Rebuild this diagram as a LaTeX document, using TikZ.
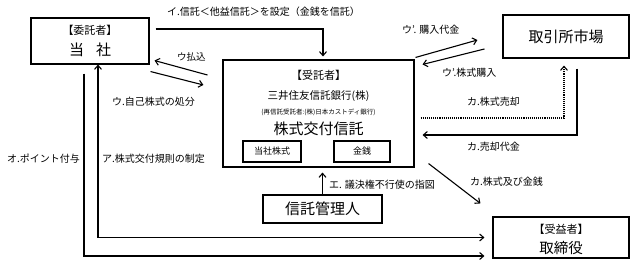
\documentclass[tikz,border=0pt]{standalone}
\usepackage{fontspec}
\setmainfont{Noto Sans CJK JP}
\usepackage{tikz}
\usetikzlibrary{arrows.meta,positioning,calc}

\begin{document}
\begin{tikzpicture}[x=1pt, y=-1pt,
    box/.style={draw, line width=1.1pt, inner sep=0pt},
    arr/.style={line width=1.1pt, -{Straight Barb[length=4pt,width=7pt]}},
    lbl/.style={font=\fontsize{10}{11}\selectfont, anchor=west, inner sep=0pt},
    big/.style={font=\fontsize{15}{17}\selectfont}]
  \useasboundingbox (0,0) rectangle (633,275);

  % Boxes
  \node[box, minimum width=118pt, minimum height=46pt] (client) at (90,41) {};
  \node[box, minimum width=191pt, minimum height=107pt] (trust) at (318.5,113.5) {};
  \node[box, minimum width=58pt, minimum height=21pt, font=\fontsize{9}{10}\selectfont] (shares) at (272,151.5) {当社株式};
  \node[box, minimum width=56pt, minimum height=21pt, font=\fontsize{9}{10}\selectfont] (cash) at (362,151.5) {金銭};
  \node[box, big, minimum width=126pt, minimum height=43pt] (market) at (566,36.5) {取引所市場};
  \node[box, big, minimum width=119pt, minimum height=28pt] (admin) at (322.5,209) {信託管理人};
  \node[box, minimum width=136pt, minimum height=41pt] (bene) at (561,237.5) {};

  % Box texts
  \node[font=\fontsize{11}{13}\selectfont] (clientRole) at (90,30) {【委託者】};
  \node[big] (clientName) at (90,50) {当\hspace{0.8em}社};
  \node[font=\fontsize{11}{13}\selectfont] (trustRole) at (318.5,75) {【受託者】};
  \node[font=\fontsize{10.5}{12}\selectfont] (trustBank) at (318.5,96) {三井住友信託銀行(株)};
  \node[font=\fontsize{6.5}{8}\selectfont] (trustSub) at (318.5,112) {(再信託受託者:(株)日本カストディ銀行)};
  \node[big] (trustName) at (318.5,129) {株式交付信託};
  \node[font=\fontsize{11}{13}\selectfont] (beneRole) at (561,229) {【受益者】};
  \node[font=\fontsize{14.5}{16}\selectfont] (beneName) at (561,248) {取締役};

  % Arrows
  \draw[arr, shorten >=3pt] ($(client.east)+(6,-12)$) -| ([xshift=4.5pt]trust.north);
  \draw[arr] ($(trust.west)+(-15,-38.5)$) -- ($(client.south east)+(5,-4)$);
  \draw[arr] ($(client.south east)+(1,7)$) -- ($(trust.west)+(-19,-28.5)$);
  \draw[arr] ($(trust.north east)+(1,-2)$) -- ($(market.west)+(-25,3.5)$);
  \draw[arr] ($(market.west)+(-18,12.5)$) -- ($(trust.north east)+(8,5)$);
  \draw[arr, densely dotted, shorten >=7pt] ($(trust.east)+(6,4.5)$) -| ([xshift=-2pt]market.south);
  \draw[arr] ($(market.south)+(11,10)$) |- ($(trust.east)+(8,21.5)$);
  \draw[arr] ($(trust.south east)+(14,-4)$) -- ($(bene.north west)+(-12,-13)$);
  \draw[arr, shorten >=5pt] (admin.north) -- (admin.north |- trust.south);
  \draw[arr, {Straight Barb[length=4pt,width=7pt]}-{Straight Barb[length=4pt,width=7pt]}, shorten >=8pt] ([xshift=8pt]client.south) |- (bene.west);
  \draw[arr, shorten >=8pt] ($(client.south)+(-6,9)$) |- ($(bene.west)+(0,18.5)$);

  % Labels
  \node[lbl] (setTrust) at (167,12) {イ.信託＜他益信託＞を設定（金銭を信託）};
  \node[lbl, font=\fontsize{9.5}{10}\selectfont] (payIn) at (177,57) {ウ払込};
  \node[lbl] (dispose) at (112,102) {ウ.自己株式の処分};
  \node[lbl] (buyCash) at (402,30) {ウ’. 購入代金};
  \node[lbl] (buyShares) at (442,73) {ウ’.株式購入};
  \node[lbl] (sellShares) at (467,102) {カ.株式売却};
  \node[lbl] (sellCash) at (467,147) {カ.売却代金};
  \node[lbl] (deliver) at (470,182) {カ.株式及び金銭};
  \node[lbl] (vote) at (329,185) {エ. 議決権不行使の指図};
  \node[lbl] (points) at (7,159) {オ.ポイント付与};
  \node[lbl] (rules) at (102,159) {ア.株式交付規則の制定};
\end{tikzpicture}
\end{document}
